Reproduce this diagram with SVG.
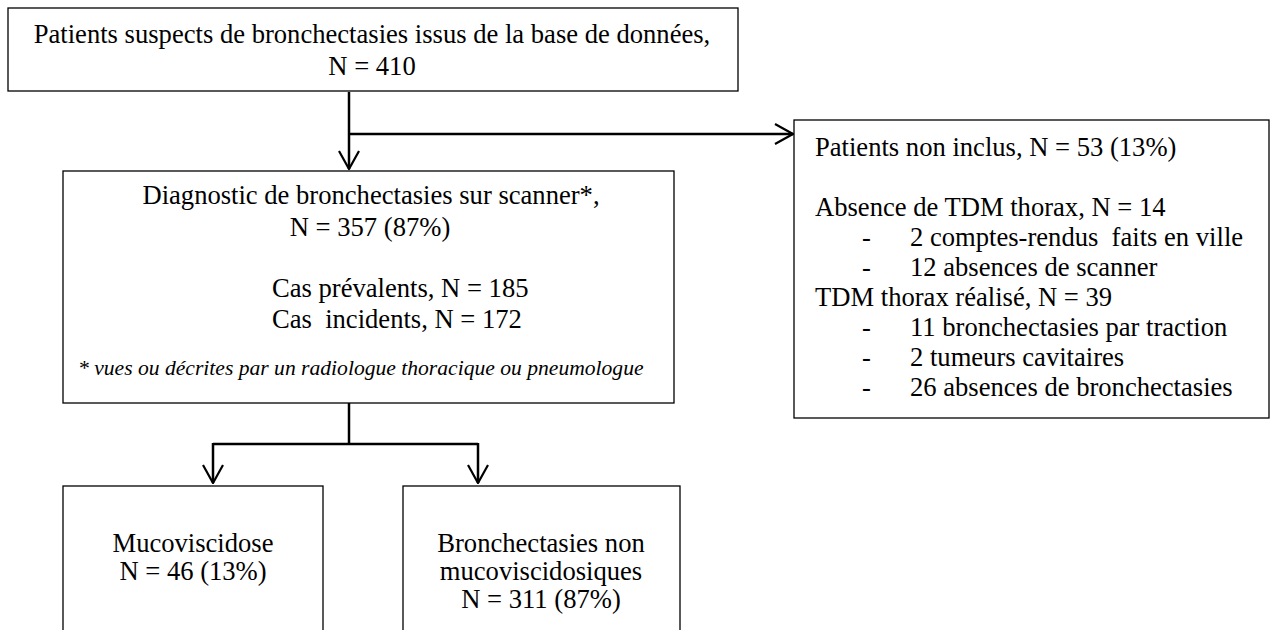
<svg xmlns="http://www.w3.org/2000/svg" width="1271" height="630" viewBox="0 0 1271 630">
<style>
  .box { fill: #ffffff; stroke: #000000; stroke-width: 1.3; }
  .t { font-family: "Liberation Serif", "Times New Roman", serif; font-size: 26.6px; fill: #000000; }
  .c { text-anchor: middle; }
  .fn { font-family: "Liberation Serif", "Times New Roman", serif; font-size: 21.6px; font-style: italic; fill: #000000; }
  .conn { fill: none; stroke: #000000; stroke-width: 2.5; }
</style>
<defs>
  <marker id="arr" viewBox="0 0 20 22" refX="19" refY="11" markerWidth="20" markerHeight="22" markerUnits="userSpaceOnUse" orient="auto">
    <path d="M1,1 L19,11 L1,21" fill="none" stroke="#000000" stroke-width="2.2"/>
  </marker>
</defs>
<rect x="0" y="0" width="1271" height="630" fill="#ffffff"/>

<g id="connectors">
  <path class="conn" d="M349,92 V169" marker-end="url(#arr)"/>
  <path class="conn" d="M349,134 H793" marker-end="url(#arr)"/>
  <path class="conn" d="M349,403 V444"/>
  <path class="conn" d="M213,444 H478"/>
  <path class="conn" d="M213,443 V483" marker-end="url(#arr)"/>
  <path class="conn" d="M478,443 V483" marker-end="url(#arr)"/>
</g>

<g id="node-source">
  <rect class="box" x="8" y="8" width="730" height="83"/>
  <text class="t c" x="372" y="43">Patients suspects de bronchectasies issus de la base de données,</text>
  <text class="t c" x="372" y="75">N = 410</text>
</g>

<g id="node-diagnostic">
  <rect class="box" x="63" y="171" width="611" height="232"/>
  <text class="t c" x="371" y="204">Diagnostic de bronchectasies sur scanner*,</text>
  <text class="t c" x="370" y="236">N = 357 (87%)</text>
  <text class="t" x="272" y="297">Cas prévalents, N = 185</text>
  <text class="t" x="272" y="328" xml:space="preserve">Cas  incidents, N = 172</text>
  <text class="fn" x="78" y="375">* vues ou décrites par un radiologue thoracique ou pneumologue</text>
</g>

<g id="node-excluded">
  <rect class="box" x="794" y="120" width="475" height="298"/>
  <text class="t" x="815" y="156">Patients non inclus, N = 53 (13%)</text>
  <text class="t" x="815" y="216">Absence de TDM thorax, N = 14</text>
  <text class="t" x="862" y="246">-</text>
  <text class="t" x="910" y="246" xml:space="preserve">2 comptes-rendus  faits en ville</text>
  <text class="t" x="862" y="276">-</text>
  <text class="t" x="910" y="276">12 absences de scanner</text>
  <text class="t" x="815" y="306">TDM thorax réalisé, N = 39</text>
  <text class="t" x="862" y="336">-</text>
  <text class="t" x="910" y="336">11 bronchectasies par traction</text>
  <text class="t" x="862" y="366">-</text>
  <text class="t" x="910" y="366">2 tumeurs cavitaires</text>
  <text class="t" x="862" y="396">-</text>
  <text class="t" x="910" y="396">26 absences de bronchectasies</text>
</g>

<g id="node-muco">
  <rect class="box" x="63" y="486" width="260" height="160"/>
  <text class="t c" x="193" y="552">Mucoviscidose</text>
  <text class="t c" x="193" y="580">N = 46 (13%)</text>
</g>

<g id="node-non-muco">
  <rect class="box" x="403" y="486" width="277" height="160"/>
  <text class="t c" x="541" y="552">Bronchectasies non</text>
  <text class="t c" x="541" y="580">mucoviscidosiques</text>
  <text class="t c" x="541" y="608">N = 311 (87%)</text>
</g>
</svg>
